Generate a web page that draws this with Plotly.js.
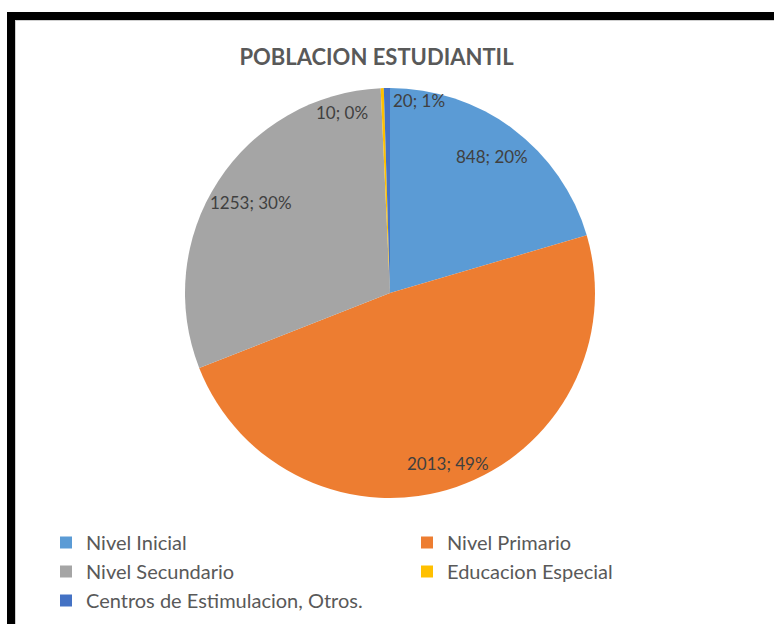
<!DOCTYPE html>
<html>
<head>
<meta charset="utf-8">
<script src="https://cdn.plot.ly/plotly-3.0.1.min.js"></script>
<style>
  html, body { margin: 0; padding: 0; background: #ffffff; }
  #wrap { position: absolute; left: 0; top: 0; width: 774px; height: 624px; overflow: hidden; background: #fff; }
  #frame { position: absolute; left: 7px; top: 12px; width: 800px; height: 700px; border-left: 8px solid #000; border-top: 8px solid #000; box-sizing: border-box; box-shadow: inset 1px 1px 0 #cfcfcf; pointer-events: none; }
  #chart { position: absolute; left: 0; top: 0; width: 774px; height: 624px; }
</style>
</head>
<body>
<div id="wrap">
  <div id="chart"></div>
  <div id="frame"></div>
</div>
<script>
const categories = ["Nivel Inicial", "Nivel Primario", "Nivel Secundario", "Educacion Especial", "Centros de Estimulacion, Otros."];
const students = [848, 2013, 1253, 10, 20];
const percentLabels = ["20%", "49%", "30%", "0%", "1%"];
const sliceColors = ["#5B9BD5", "#ED7D31", "#A5A5A5", "#FFC000", "#4472C4"];

// label placement styling (Excel "best fit" look)
const labelRadius = [0.83, 0.88, 0.81, 0.88, 0.94];
const labelAnchor = ["center", "center", "center", "right", "left"];
const labelShift = [0, 0, 0, -13, 4];

const W = 774, H = 624;
const M = { l: 6, r: 0, t: 88, b: 0 };
const plotW = W - M.l - M.r, plotH = H - M.t - M.b;
const R = 205;
const cxPx = M.l + plotW / 2;
const cyPx = M.t + R;
const domY0 = (H - M.b - (cyPx + R)) / plotH;

const fontFam = "Lato, 'Open Sans', sans-serif";
const total = students.reduce((a, b) => a + b, 0);

const annotations = [];
let cum = 0;
students.forEach((v, i) => {
  const mid = (cum + v / 2) / total * 2 * Math.PI;
  cum += v;
  const px = cxPx + labelRadius[i] * R * Math.sin(mid);
  const py = cyPx - labelRadius[i] * R * Math.cos(mid);
  annotations.push({
    xref: "paper", yref: "paper",
    x: (px - M.l) / plotW,
    y: (H - M.b - py) / plotH,
    xanchor: labelAnchor[i], yanchor: "middle",
    xshift: labelShift[i],
    text: v + "; " + percentLabels[i],
    showarrow: false,
    font: { family: fontFam, size: 17, color: "#404040" }
  });
});

const trace = {
  type: "pie",
  labels: categories,
  values: students,
  textinfo: "none",
  sort: false,
  direction: "clockwise",
  rotation: 0,
  domain: { x: [0, 1], y: [domY0, 1] },
  marker: { colors: sliceColors, line: { width: 0 } },
  hoverinfo: "label+value+percent"
};

const layout = {
  width: W,
  height: H,
  margin: M,
  paper_bgcolor: "rgba(0,0,0,0)",
  plot_bgcolor: "rgba(0,0,0,0)",
  title: {
    text: "<b>POBLACION ESTUDIANTIL</b>",
    font: { family: fontFam, size: 22, color: "#595959" },
    x: 376.5 / W, xanchor: "center", xref: "container",
    y: 1 - 57 / H, yanchor: "middle", yref: "container"
  },
  showlegend: true,
  legend: {
    orientation: "h",
    x: (46 - M.l) / plotW, xanchor: "left",
    y: (H - M.b - 523) / plotH, yanchor: "top",
    entrywidth: 316, entrywidthmode: "pixels",
    font: { family: fontFam, size: 20, color: "#595959" },
    traceorder: "normal"
  },
  annotations: annotations
};

Plotly.newPlot("chart", [trace], layout, { displayModeBar: false, staticPlot: true });
</script>
</body>
</html>
